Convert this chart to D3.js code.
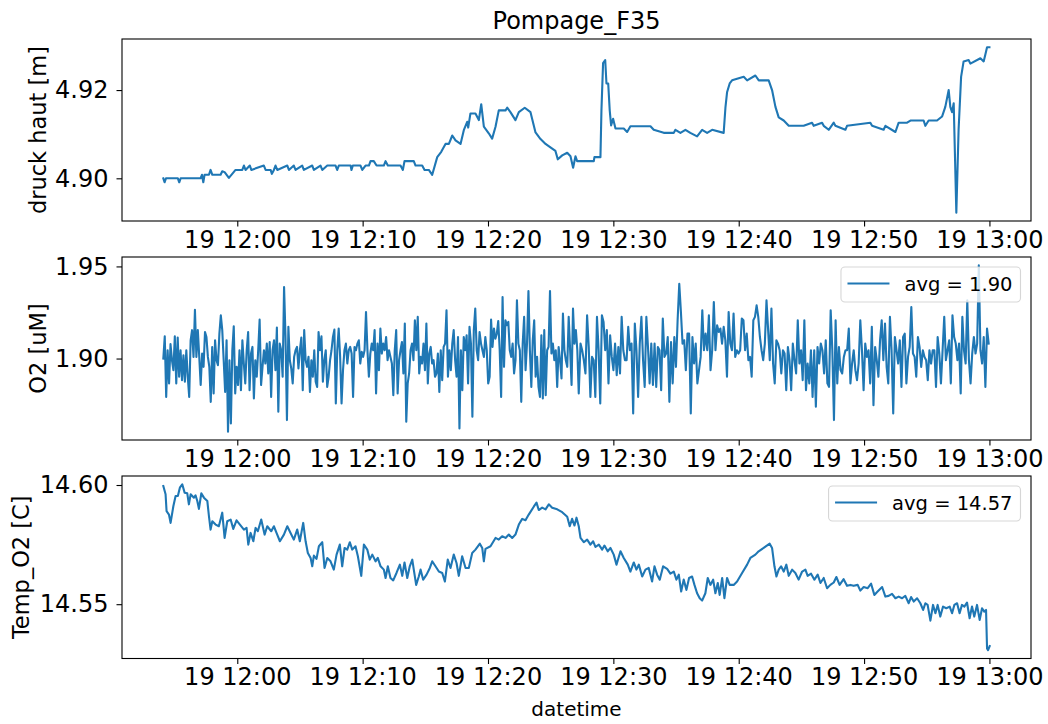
<!DOCTYPE html>
<html><head><meta charset="utf-8">
<script src="https://cdn.jsdelivr.net/npm/d3@7"></script>
<style>body{margin:0;background:#fff}svg{display:block}text{font-family:"DejaVu Sans",sans-serif;fill:#000}</style>
</head><body><svg id="c" width="1048" height="724"></svg>
<script>
// ---------- data ----------
const chartTitle = "Pompage_F35";
const xLabel = "datetime";
const seriesLabels = ["druck haut [m]", "O2 [uM]", "Temp_O2 [C]"];
const legendLabels = [null, "avg = 1.90", "avg = 14.57"];
const timeTickMinutes = [0, 10, 20, 30, 40, 50, 60]; // minutes after 19 12:00
const pressureTicks = [4.90, 4.92];
const o2Ticks = [1.90, 1.95];
const tempTicks = [14.55, 14.60];

// pressure: minutes after 12:00, value [m]
const pressureMinutes = [-5.90,-5.80,-5.69,-4.74,-4.63,-4.52,-2.93,-2.82,-2.71,-2.61,-2.26,-2.13,-1.99,-1.33,-1.20,-1.01,-0.67,-0.32,-0.14,0.40,0.53,0.66,1.00,1.12,2.12,2.26,2.66,2.76,2.92,3.05,3.19,3.99,4.12,4.51,4.65,5.18,5.31,5.98,6.11,6.64,6.78,7.18,7.84,7.97,8.10,9.04,9.11,9.22,9.83,9.97,10.23,10.50,10.63,10.89,11.11,11.69,11.83,12.01,13.02,13.21,13.34,14.08,14.22,14.75,14.94,15.28,15.55,15.95,16.27,16.61,16.88,17.15,17.41,17.81,18.07,18.34,18.42,18.60,19.00,19.27,19.46,19.67,20.06,20.33,20.60,20.86,21.40,21.53,21.79,22.19,22.46,22.93,23.39,23.79,24.19,24.59,24.98,25.38,25.57,25.92,26.32,26.58,26.79,26.98,27.11,27.38,28.44,28.49,28.97,29.05,29.18,29.35,29.45,29.59,29.71,29.82,29.98,30.17,30.83,31.10,31.36,32.96,33.22,34.02,34.82,34.95,35.35,35.75,36.14,36.68,37.08,37.48,37.88,38.80,38.94,39.07,39.28,39.47,40.40,40.67,41.33,41.60,42.39,42.66,42.93,43.19,43.59,43.99,45.18,45.85,45.98,46.65,46.78,47.18,47.58,47.71,48.51,48.64,50.50,50.64,51.56,51.70,52.50,52.76,53.43,53.70,54.75,54.89,55.15,55.82,56.22,56.48,56.75,56.88,57.02,57.15,57.36,57.54,57.74,57.94,58.34,58.48,59.28,59.54,59.67,59.81,60.00];
const pressureValues = [4.9000,4.8991,4.9000,4.9000,4.8991,4.9000,4.9000,4.9008,4.8991,4.9008,4.9008,4.9019,4.9008,4.9008,4.9016,4.9014,4.9001,4.9013,4.9019,4.9019,4.9029,4.9019,4.9029,4.9019,4.9029,4.9019,4.9019,4.9010,4.9019,4.9029,4.9019,4.9029,4.9019,4.9029,4.9019,4.9029,4.9019,4.9029,4.9019,4.9029,4.9019,4.9029,4.9029,4.9019,4.9029,4.9029,4.9019,4.9029,4.9029,4.9019,4.9029,4.9029,4.9039,4.9039,4.9029,4.9029,4.9039,4.9029,4.9029,4.9019,4.9039,4.9039,4.9029,4.9029,4.9019,4.9019,4.9008,4.9048,4.9060,4.9078,4.9078,4.9097,4.9086,4.9078,4.9109,4.9128,4.9115,4.9147,4.9147,4.9132,4.9168,4.9117,4.9102,4.9090,4.9117,4.9154,4.9154,4.9160,4.9150,4.9132,4.9150,4.9160,4.9150,4.9104,4.9089,4.9078,4.9070,4.9062,4.9043,4.9052,4.9058,4.9050,4.9024,4.9050,4.9039,4.9039,4.9039,4.9048,4.9048,4.9154,4.9261,4.9268,4.9215,4.9215,4.9154,4.9120,4.9135,4.9113,4.9113,4.9105,4.9118,4.9118,4.9110,4.9103,4.9103,4.9110,4.9103,4.9110,4.9103,4.9095,4.9110,4.9103,4.9110,4.9103,4.9160,4.9195,4.9215,4.9222,4.9230,4.9222,4.9233,4.9222,4.9222,4.9200,4.9162,4.9138,4.9131,4.9119,4.9119,4.9126,4.9119,4.9126,4.9119,4.9110,4.9126,4.9119,4.9110,4.9119,4.9126,4.9119,4.9110,4.9119,4.9105,4.9126,4.9126,4.9131,4.9131,4.9119,4.9131,4.9131,4.9140,4.9162,4.9200,4.9162,4.9150,4.9170,4.8922,4.9110,4.9230,4.9265,4.9268,4.9260,4.9272,4.9265,4.9280,4.9297,4.9297];

// O2: two logging runs, each sampled at a steady rate between its first and last minute
const o2RunBounds = [[-5.90, 27.24], [27.38, 59.94]];
const o2Run1 = [1.9000,1.9121,1.8792,1.9045,1.8865,1.9078,1.8991,1.8937,1.9121,1.8865,
1.9114,1.8901,1.9045,1.8883,1.9018,1.8874,1.9045,1.8901,1.8792,1.9099,
1.9154,1.9009,1.9265,1.9009,1.9154,1.9009,1.8856,1.9027,1.8955,1.9144,
1.9117,1.9009,1.8955,1.8765,1.9063,1.8810,1.9099,1.8991,1.8964,1.9135,
1.9235,1.9154,1.8991,1.8819,1.9099,1.8603,1.8991,1.8648,1.9045,1.9175,
1.8810,1.8955,1.8856,1.9045,1.8828,1.9099,1.8973,1.8865,1.9045,1.9144,
1.8828,1.9027,1.9063,1.8783,1.8991,1.8901,1.9045,1.9211,1.8856,1.8955,
1.9045,1.8973,1.9081,1.8919,1.9090,1.8792,1.9045,1.9099,1.8937,1.9168,
1.8711,1.9081,1.9045,1.8901,1.9388,1.9117,1.8666,1.9172,1.8991,1.8946,
1.8865,1.9009,1.9045,1.9063,1.8946,1.9045,1.9114,1.8828,1.9154,1.8991,
1.8955,1.9009,1.8819,1.8991,1.8901,1.9045,1.8874,1.8846,1.9144,1.9045,
1.9121,1.8874,1.8991,1.9045,1.8846,1.8901,1.8991,1.9045,1.9117,1.9157,
1.8756,1.9045,1.9163,1.9009,1.8756,1.8937,1.9045,1.9081,1.8973,1.9045,
1.9063,1.9027,1.8792,1.9063,1.9045,1.9081,1.9099,1.8973,1.9036,1.9009,
1.9045,1.9253,1.9045,1.8901,1.9027,1.9081,1.9045,1.9154,1.8810,1.9081,
1.8937,1.9163,1.9027,1.9081,1.9045,1.9117,1.8991,1.9045,1.9009,1.8973,
1.8801,1.9045,1.9154,1.8810,1.8991,1.9045,1.9090,1.8919,1.9190,1.8657,
1.8865,1.8919,1.9045,1.9081,1.8991,1.9208,1.9045,1.9226,1.8919,1.9009,
1.8973,1.9081,1.8937,1.9190,1.8865,1.9027,1.9063,1.8973,1.8991,1.8901,
1.8919,1.9027,1.8819,1.9045,1.8883,1.9063,1.9081,1.9262,1.8901,1.9045,
1.8937,1.9081,1.9154,1.8991,1.8901,1.9117,1.8621,1.9045,1.8828,1.9117,
1.9045,1.9126,1.8865,1.9172,1.9081,1.8684,1.9154,1.9271,1.9045,1.8991,
1.9144,1.9081,1.9045,1.9009,1.9117,1.9045,1.8865,1.8901,1.9211,1.9063,
1.9163,1.9108,1.9135,1.9204,1.9045,1.8792,1.9334,1.8955,1.9208,1.9181,
1.9199,1.9045,1.9009,1.9081,1.8919,1.8991,1.9316,1.9081,1.9045,1.8765,
1.9081,1.9226,1.8937,1.9081,1.9367,1.9045,1.8846,1.9099,1.9208,1.8901,
1.9009,1.8846,1.8792,1.9126,1.8783,1.9154,1.8801,1.9045,1.9063,1.9367,
1.9027,1.9081,1.8991,1.9045,1.8846,1.9063,1.8991,1.8892,1.9244,1.9045,
1.8991,1.8955,1.9226,1.9045,1.8856,1.9271,1.9081,1.9154,1.9045,1.8810];
const o2Run2 = [1.9081,1.9045,1.8991,1.8919,1.9235,1.9063,1.8792,1.9009,1.8991,1.8792,
1.9226,1.9045,1.8756,1.9235,1.9199,1.9045,1.9154,1.8865,1.9126,1.9009,
1.8937,1.9081,1.8910,1.9063,1.8919,1.9226,1.9045,1.8991,1.8991,1.9172,
1.9045,1.9081,1.8702,1.9190,1.9045,1.8792,1.9081,1.9226,1.8991,1.8846,
1.9226,1.9063,1.8865,1.9081,1.8856,1.9081,1.8846,1.9063,1.9045,1.8828,
1.9217,1.9009,1.9027,1.9117,1.8765,1.9090,1.8865,1.9117,1.8955,1.9208,
1.9406,1.9253,1.9081,1.9099,1.8937,1.9135,1.9135,1.8702,1.9117,1.8973,
1.9081,1.8865,1.8937,1.9009,1.9262,1.9045,1.9135,1.9045,1.9235,1.8937,
1.9045,1.9307,1.9045,1.9181,1.9144,1.9163,1.9081,1.9172,1.9099,1.8901,
1.9253,1.9081,1.9045,1.9244,1.9009,1.9045,1.9027,1.9045,1.9217,1.9208,
1.9045,1.9135,1.8991,1.9009,1.8901,1.9208,1.9226,1.9289,1.9226,1.9117,
1.9045,1.8991,1.9081,1.9316,1.9154,1.8991,1.9271,1.8973,1.8865,1.9099,
1.9081,1.9045,1.8919,1.9045,1.9027,1.8828,1.9063,1.8991,1.8828,1.9081,
1.8991,1.8919,1.9208,1.8973,1.9045,1.8883,1.9208,1.8828,1.8973,1.8865,
1.9045,1.8792,1.9045,1.8738,1.9063,1.8973,1.9081,1.9045,1.8919,1.9099,
1.8865,1.8846,1.9262,1.9045,1.8666,1.9208,1.8865,1.9063,1.8937,1.8919,
1.9009,1.9045,1.9045,1.9163,1.8865,1.8973,1.9045,1.8937,1.8883,1.8973,
1.9208,1.9045,1.8828,1.9081,1.9009,1.9045,1.8865,1.9172,1.8747,1.9063,
1.8991,1.8901,1.9099,1.9208,1.8991,1.9190,1.8955,1.8865,1.9226,1.9045,
1.8702,1.9117,1.9045,1.8973,1.9099,1.8846,1.9117,1.9135,1.8865,1.9009,
1.9063,1.9280,1.9027,1.9009,1.8901,1.9117,1.9063,1.8955,1.9045,1.9009,
1.8991,1.8883,1.9045,1.8973,1.9045,1.9045,1.8846,1.9117,1.9027,1.8865,
1.9045,1.9226,1.8991,1.9045,1.9099,1.8865,1.9235,1.9117,1.9081,1.8991,
1.9081,1.8810,1.9226,1.9045,1.8973,1.9316,1.8991,1.8865,1.9027,1.9117,
1.9027,1.9081,1.9506,1.9045,1.8973,1.9117,1.8846,1.9163,1.9081];

// temperature: minutes after 12:00, value [C]
const tempMinutes = [-5.90,-5.72,-5.64,-5.45,-5.32,-5.10,-4.92,-4.74,-4.58,-4.39,-4.20,-3.99,-3.86,-3.72,-3.46,-3.33,-3.19,-3.06,-2.87,-2.66,-2.39,-2.26,-2.13,-1.99,-1.73,-1.47,-1.20,-1.01,-0.80,-0.53,-0.32,-0.06,0.21,0.53,0.74,0.88,1.06,1.28,1.46,1.64,1.91,2.18,2.39,2.71,2.92,3.13,3.40,3.72,3.99,4.25,4.51,4.78,4.99,5.26,5.45,5.63,5.85,5.98,6.11,6.32,6.51,6.78,6.96,7.18,7.44,7.70,7.92,8.18,8.37,8.56,8.77,8.98,9.17,9.43,9.62,9.89,10.10,10.37,10.57,10.77,11.03,11.21,11.43,11.69,11.83,12.01,12.22,12.44,12.70,12.97,13.16,13.34,13.56,13.76,13.96,14.08,14.27,14.48,14.62,14.83,15.10,15.36,15.55,15.81,16.08,16.35,16.56,16.79,17.01,17.27,17.49,17.67,17.94,18.21,18.47,18.74,19.00,19.35,19.54,19.67,19.80,20.20,20.60,20.86,21.13,21.40,21.66,21.93,22.19,22.46,22.73,22.99,23.25,23.65,23.87,24.05,24.32,24.59,24.85,25.12,25.52,25.92,26.32,26.52,26.71,26.90,27.06,27.24,27.38,27.64,27.91,28.17,28.39,28.57,28.84,29.11,29.29,29.55,29.77,30.03,30.25,30.57,30.83,31.15,31.36,31.63,31.84,32.03,32.30,32.56,32.82,33.09,33.28,33.49,33.70,33.97,34.29,34.55,34.82,35.03,35.22,35.41,35.61,35.83,36.04,36.28,36.47,36.68,36.89,37.08,37.34,37.53,37.74,37.96,38.14,38.33,38.48,38.68,38.86,39.07,39.28,39.60,39.87,40.27,40.67,40.93,41.33,41.59,41.99,42.47,42.66,42.85,43.01,43.19,43.38,43.59,43.80,43.99,44.26,44.52,44.78,45.06,45.32,45.50,45.77,46.04,46.30,46.52,46.78,47.05,47.31,47.58,47.79,48.05,48.37,48.64,48.91,49.17,49.49,49.70,49.97,50.29,50.56,50.82,51.08,51.44,51.70,51.96,52.23,52.50,52.76,53.03,53.29,53.56,53.75,53.96,54.23,54.49,54.71,54.89,55.07,55.29,55.50,55.69,55.87,56.08,56.30,56.56,56.83,57.02,57.20,57.42,57.62,57.81,58.00,58.21,58.42,58.61,58.79,59.01,59.22,59.41,59.59,59.73,59.81,59.89,60.02];
const tempValues = [14.5996,14.5961,14.5890,14.5876,14.5841,14.5911,14.5954,14.5954,14.5989,14.6003,14.5968,14.5965,14.5919,14.5961,14.5947,14.5957,14.5933,14.5900,14.5965,14.5947,14.5933,14.5869,14.5813,14.5848,14.5834,14.5827,14.5884,14.5778,14.5848,14.5855,14.5816,14.5852,14.5834,14.5813,14.5820,14.5750,14.5799,14.5764,14.5820,14.5806,14.5855,14.5792,14.5827,14.5806,14.5827,14.5799,14.5764,14.5792,14.5827,14.5799,14.5771,14.5813,14.5764,14.5841,14.5764,14.5715,14.5694,14.5659,14.5704,14.5690,14.5743,14.5760,14.5652,14.5694,14.5680,14.5645,14.5708,14.5750,14.5659,14.5736,14.5729,14.5760,14.5729,14.5743,14.5701,14.5619,14.5750,14.5729,14.5687,14.5708,14.5680,14.5694,14.5659,14.5645,14.5610,14.5659,14.5610,14.5600,14.5631,14.5666,14.5619,14.5675,14.5610,14.5659,14.5687,14.5645,14.5581,14.5616,14.5645,14.5603,14.5624,14.5652,14.5680,14.5659,14.5637,14.5631,14.5595,14.5687,14.5652,14.5708,14.5673,14.5619,14.5701,14.5652,14.5652,14.5715,14.5729,14.5754,14.5736,14.5680,14.5732,14.5743,14.5778,14.5771,14.5785,14.5778,14.5792,14.5778,14.5792,14.5834,14.5858,14.5852,14.5876,14.5909,14.5926,14.5895,14.5905,14.5898,14.5919,14.5905,14.5898,14.5886,14.5867,14.5827,14.5858,14.5830,14.5863,14.5827,14.5778,14.5760,14.5771,14.5750,14.5764,14.5740,14.5750,14.5729,14.5746,14.5722,14.5736,14.5708,14.5666,14.5722,14.5694,14.5666,14.5637,14.5675,14.5645,14.5666,14.5616,14.5645,14.5652,14.5595,14.5659,14.5624,14.5603,14.5659,14.5648,14.5628,14.5637,14.5603,14.5624,14.5553,14.5603,14.5560,14.5610,14.5616,14.5581,14.5546,14.5525,14.5515,14.5546,14.5610,14.5581,14.5603,14.5546,14.5589,14.5539,14.5610,14.5525,14.5610,14.5581,14.5581,14.5595,14.5631,14.5666,14.5694,14.5708,14.5722,14.5736,14.5754,14.5736,14.5659,14.5616,14.5645,14.5659,14.5637,14.5666,14.5619,14.5645,14.5631,14.5603,14.5637,14.5645,14.5619,14.5628,14.5603,14.5624,14.5589,14.5610,14.5567,14.5581,14.5591,14.5614,14.5581,14.5605,14.5577,14.5581,14.5577,14.5581,14.5557,14.5572,14.5567,14.5586,14.5539,14.5553,14.5572,14.5532,14.5535,14.5543,14.5525,14.5532,14.5525,14.5535,14.5504,14.5530,14.5511,14.5525,14.5504,14.5476,14.5504,14.5497,14.5431,14.5497,14.5462,14.5497,14.5448,14.5490,14.5483,14.5490,14.5462,14.5497,14.5504,14.5462,14.5497,14.5490,14.5507,14.5441,14.5490,14.5448,14.5497,14.5434,14.5483,14.5469,14.5476,14.5314,14.5307,14.5324];

// ---------- build ----------
const base = new Date(2020, 5, 19, 12, 0, 0);
const toDate = m => new Date(base.getTime() + m * 60000);

const o2Values = o2Run1.concat(o2Run2);
const o2Minutes = [];
[o2Run1, o2Run2].forEach((run, k) => {
  const s = d3.scaleLinear().domain([0, run.length - 1]).range(o2RunBounds[k]);
  run.forEach((v, i) => o2Minutes.push(s(i)));
});

const series = [
  {t: pressureMinutes, v: pressureValues, ticks: pressureTicks},
  {t: o2Minutes, v: o2Values, ticks: o2Ticks},
  {t: tempMinutes, v: tempValues, ticks: tempTicks}
];

const svg = d3.select("#c");
const left = 122, right = 1031;
const panels = [{top: 39, bottom: 221}, {top: 257, bottom: 440}, {top: 476, bottom: 658.5}];
const color = "#1f77b4";
const tickFont = 24, yLabelFont = 22.5, xLabelFont = 20, legendFont = 19.5, titleFont = 24;

const allT = pressureMinutes.concat(o2Minutes, tempMinutes);
const tMin = d3.min(allT), tMax = d3.max(allT), tPad = (tMax - tMin) * 0.05;
const x = d3.scaleTime().domain([toDate(tMin - tPad), toDate(tMax + tPad)]).range([left, right]);
const fmt = d3.timeFormat("%d %H:%M");
const yLabelX = [46, 46, 29];

series.forEach((s, k) => {
  const p = panels[k];
  const [lo, hi] = d3.extent(s.v);
  const pad = (hi - lo) * 0.05;
  const y = d3.scaleLinear().domain([lo - pad, hi + pad]).range([p.bottom, p.top]);
  const g = svg.append("g");

  const line = d3.line().x((d, i) => x(toDate(s.t[i]))).y(d => y(d));
  g.append("path").datum(s.v).attr("d", line).attr("fill", "none")
    .attr("stroke", color).attr("stroke-width", 2.1).attr("stroke-linejoin", "round").attr("stroke-linecap", "square");

  // x axis
  const xa = d3.axisBottom(x).tickValues(timeTickMinutes.map(toDate)).tickFormat(fmt).tickSize(5.5).tickPadding(4);
  const gx = g.append("g").attr("transform", `translate(0,${p.bottom})`).call(xa);
  gx.select(".domain").remove();
  gx.selectAll("line").attr("stroke", "#000").attr("stroke-width", 1.1);
  gx.selectAll("text").attr("font-size", tickFont).attr("font-family", "DejaVu Sans").attr("fill", "#000");

  // y axis
  const ya = d3.axisLeft(y).tickValues(s.ticks).tickFormat(d3.format(".2f")).tickSize(5.5).tickPadding(8);
  const gy = g.append("g").attr("transform", `translate(${left},0)`).call(ya);
  gy.select(".domain").remove();
  gy.selectAll("line").attr("stroke", "#000").attr("stroke-width", 1.1);
  gy.selectAll("text").attr("font-size", tickFont).attr("font-family", "DejaVu Sans").attr("fill", "#000");

  // frame
  g.append("rect").attr("x", left).attr("y", p.top).attr("width", right - left).attr("height", p.bottom - p.top)
    .attr("fill", "none").attr("stroke", "#000").attr("stroke-width", 1.1);

  // y label
  g.append("text").attr("transform", `translate(${yLabelX[k]},${(p.top + p.bottom) / 2}) rotate(-90)`)
    .attr("text-anchor", "middle").attr("font-size", yLabelFont).text(seriesLabels[k]);

  // legend
  if (legendLabels[k]) {
    const lg = g.append("g");
    const box = lg.append("rect");
    const txt = lg.append("text").attr("font-size", legendFont).text(legendLabels[k]);
    const tw = txt.node().getComputedTextLength();
    const padL = 6.5, hl = 42, gap = 15, padR = 8;
    const bw = padL + hl + gap + tw + padR, bh = 35;
    const bx = right - 10.5 - bw, by = p.top + 10;
    box.attr("x", bx).attr("y", by).attr("width", bw).attr("height", bh).attr("rx", 4)
      .attr("fill", "rgba(255,255,255,0.8)").attr("stroke", "rgba(204,204,204,0.8)").attr("stroke-width", 1.1);
    lg.append("line").attr("x1", bx + padL).attr("x2", bx + padL + hl).attr("y1", by + 16.5).attr("y2", by + 16.5)
      .attr("stroke", color).attr("stroke-width", 2.1);
    txt.attr("x", bx + padL + hl + gap).attr("y", by + 24);
  }
});

svg.append("text").attr("x", (left + right) / 2).attr("y", 29).attr("text-anchor", "middle")
  .attr("font-size", titleFont).text(chartTitle);
svg.append("text").attr("x", (left + right) / 2).attr("y", 716).attr("text-anchor", "middle")
  .attr("font-size", xLabelFont).text(xLabel);
</script></body></html>
